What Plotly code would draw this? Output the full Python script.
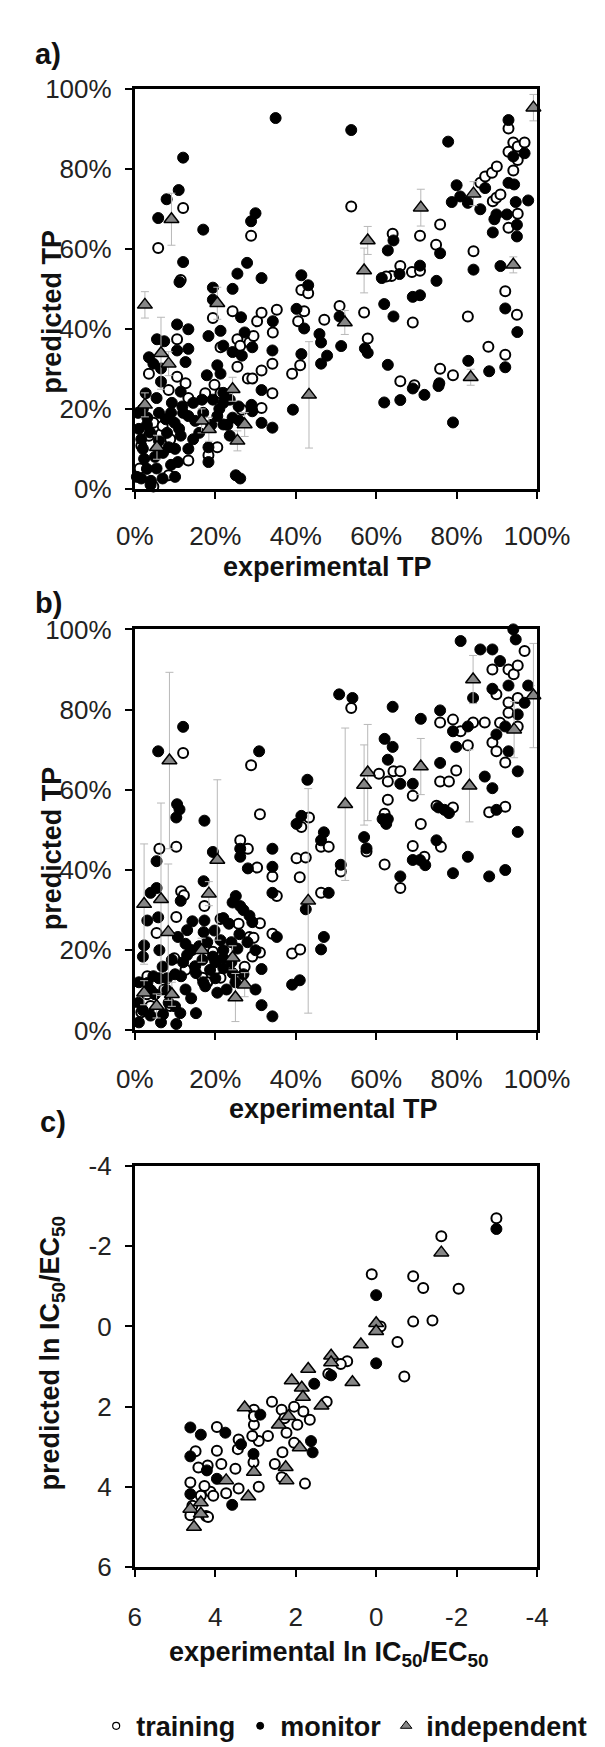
import plotly.graph_objects as go

# ---- panel a: transdermal permeation, model 1 (fractions 0..1) ----
a_train_x = [0.114, 0.414, 0.431, 0.194, 0.243, 0.304, 0.315, 0.353, 0.343, 0.421, 0.406, 0.471, 0.105, 0.255,
             0.262, 0.285, 0.295, 0.213, 0.342, 0.315, 0.281, 0.292, 0.255, 0.391, 0.411, 0.035, 0.105, 0.126,
             0.084, 0.342, 0.315, 0.266, 0.175, 0.198, 0.213, 0.133, 0.046, 0.065, 0.088, 0.016, 0.205, 0.133,
             0.183, 0.084, 0.046, 0.012, 0.035, 0.069,
             0.058, 0.120, 0.289, 0.538, 0.709, 0.759, 0.749, 0.641, 0.660, 0.638, 0.625, 0.689, 0.709, 0.842,
             0.859, 0.871, 0.888, 0.900, 0.890, 0.899, 0.909, 0.929, 0.929, 0.941, 0.952, 0.941, 0.952, 0.969,
             0.929, 0.952, 0.921, 0.509, 0.570, 0.828, 0.950,
             0.691, 0.579, 0.879, 0.921, 0.759, 0.791, 0.660, 0.695]
a_train_y = [0.522, 0.497, 0.489, 0.427, 0.444, 0.419, 0.440, 0.448, 0.391, 0.444, 0.419, 0.423, 0.374, 0.374,
             0.358, 0.366, 0.382, 0.354, 0.313, 0.296, 0.276, 0.276, 0.305, 0.288, 0.309, 0.288, 0.280, 0.264,
             0.247, 0.239, 0.202, 0.198, 0.239, 0.260, 0.239, 0.227, 0.165, 0.137, 0.124, 0.108, 0.104, 0.071,
             0.084, 0.034, 0.006, 0.051, 0.133, 0.157,
             0.602, 0.702, 0.633, 0.706, 0.633, 0.661, 0.610, 0.638, 0.557, 0.532, 0.531, 0.542, 0.545, 0.594,
             0.765, 0.781, 0.790, 0.806, 0.719, 0.728, 0.736, 0.843, 0.901, 0.866, 0.856, 0.796, 0.822, 0.866,
             0.653, 0.688, 0.494, 0.457, 0.441, 0.431, 0.435,
             0.416, 0.376, 0.355, 0.335, 0.300, 0.284, 0.269, 0.259]

a_mon_x = [0.255, 0.315, 0.414, 0.431, 0.194, 0.243, 0.194, 0.264, 0.402, 0.421, 0.343, 0.105, 0.133, 0.183,
           0.213, 0.055, 0.073, 0.105, 0.133, 0.220, 0.273, 0.292, 0.266, 0.243, 0.342, 0.414, 0.463, 0.478,
           0.035, 0.046, 0.065, 0.126, 0.205, 0.213, 0.179, 0.065, 0.114, 0.027, 0.054, 0.092, 0.118, 0.145,
           0.167, 0.194, 0.220, 0.236, 0.258, 0.292, 0.315, 0.315, 0.342, 0.393, 0.008, 0.031, 0.077, 0.099,
           0.133, 0.205, 0.220, 0.243, 0.114, 0.145, 0.183, 0.236, 0.016, 0.038, 0.084, 0.133, 0.183, 0.107,
           0.023, 0.054, 0.069, 0.016, 0.039, 0.251, 0.262, 0.463, 0.459, 0.111,
           0.010, 0.020, 0.030, 0.050, 0.060, 0.070, 0.090, 0.100, 0.110, 0.120, 0.005, 0.030, 0.060, 0.080,
           0.100, 0.040, 0.020, 0.090, 0.150, 0.170, 0.160, 0.190, 0.210, 0.230, 0.260, 0.290, 0.220,
           0.350, 0.538, 0.120, 0.779, 0.929, 0.109, 0.079, 0.058, 0.170, 0.300, 0.289, 0.279, 0.120,
           0.629, 0.643, 0.709, 0.759, 0.788, 0.800, 0.809, 0.828, 0.859, 0.871, 0.890, 0.894, 0.899, 0.909,
           0.925, 0.929, 0.941, 0.943, 0.947, 0.950, 0.950, 0.969, 0.978,
           0.614, 0.620, 0.658, 0.691, 0.709, 0.750, 0.842, 0.921, 0.643, 0.509,
           0.951, 0.513, 0.921, 0.881, 0.829, 0.629, 0.572, 0.579, 0.620, 0.660, 0.691, 0.720, 0.757, 0.791, 0.755]
a_mon_y = [0.538, 0.527, 0.534, 0.509, 0.503, 0.500, 0.473, 0.429, 0.450, 0.401, 0.419, 0.411, 0.399, 0.382,
           0.395, 0.374, 0.369, 0.346, 0.350, 0.358, 0.391, 0.354, 0.333, 0.342, 0.346, 0.337, 0.313, 0.333,
           0.329, 0.313, 0.301, 0.317, 0.309, 0.288, 0.284, 0.268, 0.243, 0.239, 0.227, 0.215, 0.206, 0.215,
           0.223, 0.223, 0.215, 0.223, 0.206, 0.194, 0.247, 0.165, 0.153, 0.198, 0.190, 0.178, 0.174, 0.165,
           0.182, 0.182, 0.161, 0.178, 0.133, 0.124, 0.104, 0.133, 0.124, 0.141, 0.104, 0.100, 0.067, 0.067,
           0.075, 0.051, 0.026, 0.026, 0.010, 0.034, 0.026, 0.366, 0.387, 0.517,
           0.150, 0.100, 0.050, 0.080, 0.120, 0.090, 0.060, 0.100, 0.150, 0.190, 0.030, 0.160, 0.190, 0.140,
           0.030, 0.020, 0.200, 0.190, 0.170, 0.190, 0.140, 0.160, 0.200, 0.160, 0.170, 0.210, 0.240,
           0.927, 0.897, 0.828, 0.868, 0.922, 0.747, 0.724, 0.677, 0.648, 0.689, 0.669, 0.565, 0.567,
           0.596, 0.621, 0.558, 0.589, 0.717, 0.759, 0.731, 0.715, 0.699, 0.752, 0.641, 0.674, 0.686, 0.557,
           0.686, 0.765, 0.831, 0.761, 0.717, 0.660, 0.631, 0.839, 0.721,
           0.527, 0.462, 0.537, 0.480, 0.484, 0.520, 0.548, 0.451, 0.431, 0.431,
           0.392, 0.357, 0.304, 0.294, 0.320, 0.310, 0.351, 0.340, 0.216, 0.222, 0.251, 0.235, 0.264, 0.166, 0.257]

a_ind_x = [0.025, 0.091, 0.205, 0.065, 0.084, 0.025, 0.243, 0.166, 0.184, 0.273, 0.255, 0.055, 0.433, 0.522,
           0.570, 0.579, 0.711, 0.842, 0.835, 0.941, 0.991]
a_ind_y = [0.460, 0.674, 0.464, 0.339, 0.313, 0.210, 0.249, 0.170, 0.149, 0.161, 0.120, 0.104, 0.235, 0.416,
           0.546, 0.621, 0.703, 0.738, 0.279, 0.560, 0.953]
a_ind_err = [0.033, 0.065, 0.040, 0.090, 0.030, 0.030, 0.030, 0.030, 0.030, 0.030, 0.025, 0.030, 0.133, 0.030,
             0.056, 0.035, 0.046, 0.030, 0.020, 0.020, 0.033]

# ---- panel b: transdermal permeation, model 2 ----
b_train_x = [0.311, 0.433, 0.414, 0.463, 0.482, 0.512, 0.402, 0.425, 0.410, 0.463, 0.353, 0.342, 0.304, 0.262,
             0.281, 0.061, 0.103, 0.115, 0.122, 0.173, 0.103, 0.213, 0.258, 0.311, 0.342, 0.285, 0.295, 0.311,
             0.292, 0.391, 0.411, 0.273, 0.194, 0.141, 0.054, 0.126, 0.031, 0.073, 0.168, 0.213, 0.016, 0.088,
             0.039, 0.098, 0.180, 0.030,
             0.120, 0.289, 0.538, 0.607, 0.629, 0.643, 0.660, 0.629, 0.691, 0.759, 0.791, 0.810, 0.841, 0.870,
             0.828, 0.799, 0.759, 0.781, 0.889, 0.899, 0.908, 0.889, 0.899, 0.921, 0.929, 0.942, 0.952, 0.929,
             0.952, 0.929, 0.952, 0.969, 0.921,
             0.621, 0.576, 0.621, 0.660, 0.691, 0.711, 0.720, 0.750, 0.761, 0.791, 0.881]
b_train_y = [0.539, 0.531, 0.507, 0.458, 0.458, 0.396, 0.429, 0.431, 0.382, 0.343, 0.335, 0.384, 0.406, 0.474,
             0.453, 0.453, 0.458, 0.347, 0.337, 0.310, 0.283, 0.278, 0.266, 0.267, 0.241, 0.233, 0.231, 0.194,
             0.184, 0.192, 0.202, 0.159, 0.196, 0.200, 0.243, 0.151, 0.135, 0.102, 0.131, 0.131, 0.045, 0.061,
             0.061, 0.180, 0.120, 0.090,
             0.692, 0.661, 0.804, 0.640, 0.621, 0.646, 0.646, 0.575, 0.585, 0.768, 0.775, 0.746, 0.768, 0.768,
             0.711, 0.648, 0.621, 0.621, 0.900, 0.838, 0.767, 0.718, 0.696, 0.668, 0.900, 0.888, 0.910, 0.818,
             0.829, 0.792, 0.758, 0.946, 0.558,
             0.540, 0.446, 0.414, 0.355, 0.460, 0.515, 0.433, 0.560, 0.458, 0.556, 0.544]

b_mon_x = [0.105, 0.111, 0.103, 0.173, 0.054, 0.194, 0.262, 0.262, 0.281, 0.342, 0.342, 0.342, 0.353, 0.402,
           0.414, 0.470, 0.463, 0.482, 0.512, 0.425, 0.470, 0.463, 0.391, 0.410, 0.342, 0.315, 0.315, 0.152,
           0.113, 0.103, 0.039, 0.054, 0.031, 0.058, 0.171, 0.114, 0.143, 0.173, 0.171, 0.251, 0.243, 0.262,
           0.285, 0.292, 0.234, 0.198, 0.213, 0.107, 0.126, 0.023, 0.061, 0.092, 0.130, 0.168, 0.194, 0.220,
           0.255, 0.020, 0.069, 0.046, 0.115, 0.152, 0.187, 0.220, 0.243, 0.175, 0.205, 0.228, 0.126, 0.031,
           0.009, 0.039, 0.065, 0.084, 0.300, 0.150, 0.200, 0.080, 0.050, 0.140, 0.240, 0.270,
           0.010, 0.020, 0.040, 0.060, 0.080, 0.100, 0.120, 0.140, 0.160, 0.180, 0.200, 0.220, 0.240, 0.260,
           0.280, 0.300, 0.100, 0.070, 0.130, 0.220, 0.270, 0.170, 0.250, 0.010,
           0.058, 0.120, 0.309, 0.429, 0.508, 0.541, 0.641, 0.621, 0.641, 0.629, 0.660, 0.691, 0.711, 0.759,
           0.759, 0.791, 0.799, 0.810, 0.828, 0.841, 0.859, 0.889, 0.908, 0.889, 0.929, 0.941, 0.947, 0.952,
           0.929, 0.899, 0.921, 0.952, 0.870, 0.889, 0.978, 0.969,
           0.570, 0.576, 0.616, 0.629, 0.625, 0.660, 0.691, 0.709, 0.722, 0.750, 0.755, 0.770, 0.781, 0.791,
           0.828, 0.881, 0.899, 0.921, 0.952]
b_mon_y = [0.564, 0.551, 0.531, 0.523, 0.422, 0.445, 0.453, 0.433, 0.404, 0.453, 0.408, 0.343, 0.233, 0.515,
           0.535, 0.494, 0.474, 0.343, 0.413, 0.302, 0.233, 0.202, 0.114, 0.125, 0.035, 0.153, 0.063, 0.043,
           0.043, 0.016, 0.343, 0.355, 0.274, 0.282, 0.372, 0.323, 0.272, 0.274, 0.245, 0.335, 0.319, 0.310,
           0.286, 0.270, 0.266, 0.249, 0.225, 0.233, 0.216, 0.212, 0.200, 0.176, 0.188, 0.176, 0.184, 0.200,
           0.204, 0.184, 0.159, 0.135, 0.135, 0.143, 0.151, 0.155, 0.143, 0.110, 0.094, 0.102, 0.102, 0.118,
           0.069, 0.037, 0.020, 0.069, 0.102, 0.160, 0.130, 0.130, 0.090, 0.080, 0.170, 0.140,
           0.120, 0.050, 0.100, 0.130, 0.100, 0.140, 0.170, 0.200, 0.210, 0.220, 0.170, 0.180, 0.220, 0.240,
           0.220, 0.200, 0.060, 0.040, 0.250, 0.280, 0.300, 0.120, 0.120, 0.020,
           0.696, 0.757, 0.696, 0.625, 0.838, 0.829, 0.807, 0.727, 0.707, 0.675, 0.615, 0.615, 0.777, 0.798,
           0.667, 0.746, 0.707, 0.971, 0.758, 0.829, 0.950, 0.950, 0.921, 0.852, 0.860, 1.000, 0.975, 0.788,
           0.696, 0.738, 0.758, 0.646, 0.633, 0.604, 0.860, 0.817,
           0.482, 0.454, 0.527, 0.527, 0.515, 0.384, 0.425, 0.425, 0.412, 0.474, 0.556, 0.550, 0.542, 0.392,
           0.433, 0.384, 0.550, 0.400, 0.495]

b_ind_x = [0.023, 0.065, 0.083, 0.086, 0.184, 0.205, 0.166, 0.243, 0.273, 0.250, 0.023, 0.092, 0.054, 0.431,
           0.523, 0.570, 0.579, 0.711, 0.832, 0.841, 0.943, 0.991]
b_ind_y = [0.315, 0.327, 0.245, 0.673, 0.341, 0.425, 0.200, 0.181, 0.114, 0.082, 0.094, 0.090, 0.061, 0.323,
           0.564, 0.612, 0.643, 0.658, 0.610, 0.875, 0.750, 0.835]
b_ind_err = [0.15, 0.24, 0.17, 0.22, 0.03, 0.20, 0.03, 0.03, 0.03, 0.06, 0.03, 0.03, 0.03, 0.28,
             0.19, 0.10, 0.12, 0.07, 0.09, 0.06, 0.07, 0.13]

# ---- panel c: ln IC50/EC50 ----
c_train_x = [0.11, -0.92, -1.17, -2.05, -0.92, -1.40, -0.53, -0.70, -0.11, -1.62, -2.99,
             0.72, 0.88, 1.19, 1.23, 2.59, 3.04, 2.35, 2.04, 1.81, 1.65, 1.96, 2.28, 2.69, 2.92, 3.08, 3.42,
             2.23, 2.04, 3.96, 3.96, 3.44, 3.05, 3.85, 3.50, 2.52, 2.33, 2.35, 1.77, 2.92, 3.42, 4.12, 3.73,
             4.23, 4.19, 3.04, 3.04,
             4.49, 4.42, 4.62, 4.57, 4.18, 4.36, 4.05, 4.62, 4.27]
c_train_y = [-1.30, -1.25, -0.96, -0.94, -0.12, -0.15, 0.39, 1.25, 0.00, -2.25, -2.70,
             0.87, 0.94, 1.18, 1.88, 1.88, 2.08, 2.08, 2.00, 2.12, 2.33, 2.45, 2.29, 2.73, 2.86, 2.73, 2.82,
             2.65, 2.90, 2.51, 3.10, 3.06, 3.39, 3.43, 3.55, 3.43, 3.14, 3.76, 3.92, 4.00, 4.04, 4.12, 4.16,
             4.73, 3.47, 2.45, 2.24,
             3.11, 3.52, 3.89, 4.47, 4.75, 4.22, 4.22, 4.71, 3.98]

c_mon_x = [0.00, 0.00, -2.99, 1.12, 1.54, 2.88, 3.75, 3.36, 3.05, 1.62, 1.58, 4.21, 3.96, 3.58, 4.62, 4.36,
           4.62, 4.62]
c_mon_y = [-0.78, 0.92, -2.43, 1.22, 1.43, 2.20, 2.65, 2.94, 3.18, 2.86, 3.14, 3.59, 3.80, 4.45, 2.52, 2.70,
           3.24, 4.18]

c_ind_x = [-1.62, 0.00, 0.00, 0.38, 1.12, 1.12, 0.59, 1.69, 2.10, 1.85, 1.82, 1.36, 3.27, 2.18, 2.42, 1.90,
           2.25, 2.23, 3.04, 3.73, 3.18, 4.62, 4.36, 4.36, 4.53]
c_ind_y = [-1.84, -0.08, 0.12, 0.45, 0.73, 0.90, 1.39, 1.06, 1.35, 1.53, 1.76, 1.98, 2.02, 2.24, 2.45, 3.02,
           3.51, 3.84, 3.63, 3.84, 4.24, 4.55, 4.39, 4.67, 5.00]

# ---- ticks ----
pct_ticks = [0, 0.2, 0.4, 0.6, 0.8, 1.0]
pct_labels = ["0%", "20%", "40%", "60%", "80%", "100%"]
ln_ticks = [6, 4, 2, 0, -2, -4]
ln_labels = ["6", "4", "2", "0", "-2", "-4"]

W, H = 605, 1747
FONT = "Liberation Sans, Arial, Helvetica, sans-serif"
GREY = "#868686"


def px(x):
    return x / W


def py(y):
    return 1 - y / H


train_marker = dict(symbol="circle", size=10, color="white", line=dict(color="black", width=2))
mon_marker = dict(symbol="circle", size=11, color="black", line=dict(color="black", width=1))
ind_marker = dict(symbol="triangle-up", size=13, color=GREY, line=dict(color="black", width=1.5))
err_style = dict(type="data", color="#b8b8b8", thickness=1, width=4)

fig = go.Figure()

panels = [
    ("x", "y", a_train_x, a_train_y, a_mon_x, a_mon_y, a_ind_x, a_ind_y, a_ind_err),
    ("x2", "y2", b_train_x, b_train_y, b_mon_x, b_mon_y, b_ind_x, b_ind_y, b_ind_err),
    ("x3", "y3", c_train_x, c_train_y, c_mon_x, c_mon_y, c_ind_x, c_ind_y, None),
]
for xa, ya, tx, ty, mx, my, ix, iy, ie in panels:
    fig.add_trace(go.Scatter(x=tx, y=ty, mode="markers", marker=train_marker, xaxis=xa, yaxis=ya,
                             showlegend=False, cliponaxis=False))
    fig.add_trace(go.Scatter(x=mx, y=my, mode="markers", marker=mon_marker, xaxis=xa, yaxis=ya,
                             showlegend=False, cliponaxis=False))
    fig.add_trace(go.Scatter(x=ix, y=iy, mode="markers", marker=ind_marker, xaxis=xa, yaxis=ya,
                             error_y=dict(array=ie, **err_style) if ie else None,
                             showlegend=False, cliponaxis=False))

# legend-only entries with small symbols
for name, mk in [("training", dict(train_marker, size=7, line=dict(color="black", width=1.2))),
                 ("monitor", dict(mon_marker, size=7)),
                 ("independent", dict(ind_marker, size=10, line=dict(color="black", width=1)))]:
    fig.add_trace(go.Scatter(x=[None], y=[None], mode="markers", marker=mk, name=name,
                             xaxis="x3", yaxis="y3"))

xdom = [px(118), px(558)]
ydoms = {"a": [py(474), py(67)], "b": [py(1025), py(617)], "c": [py(1571), py(1163)]}

axis_common = dict(showline=True, mirror=True, linewidth=3, linecolor="black", showgrid=False,
                   zeroline=False, ticks="outside", ticklen=7, tickwidth=2, tickcolor="black",
                   tickfont=dict(family=FONT, size=26, color="#222"), tickmode="array", fixedrange=True)

fig.update_layout(
    width=W, height=H,
    margin=dict(l=0, r=0, t=0, b=0),
    paper_bgcolor="white", plot_bgcolor="white",
    font=dict(family=FONT, color="#111"),
    xaxis=dict(axis_common, domain=xdom, anchor="y", range=[0, 1], tickvals=pct_ticks, ticktext=pct_labels,
               ticklabelstandoff=15),
    yaxis=dict(axis_common, domain=ydoms["a"], anchor="x", range=[0, 1], tickvals=pct_ticks, ticktext=pct_labels,
               ticklabelstandoff=8),
    xaxis2=dict(axis_common, domain=xdom, anchor="y2", range=[0, 1], tickvals=pct_ticks, ticktext=pct_labels,
                ticklabelstandoff=16),
    yaxis2=dict(axis_common, domain=ydoms["b"], anchor="x2", range=[0, 1], tickvals=pct_ticks,
                ticktext=pct_labels, ticklabelstandoff=8),
    xaxis3=dict(axis_common, domain=xdom, anchor="y3", range=[6, -4], tickvals=ln_ticks, ticktext=ln_labels,
                ticklabelstandoff=18),
    yaxis3=dict(axis_common, domain=ydoms["c"], anchor="x3", range=[6, -4], tickvals=ln_ticks,
                ticktext=ln_labels, ticklabelstandoff=8),
    legend=dict(orientation="h", x=px(347), xanchor="center", y=py(1733), yanchor="middle",
                font=dict(family=FONT, size=27, color="#111", weight="bold"),
                itemwidth=30, bgcolor="rgba(0,0,0,0)", traceorder="normal"),
)

title_font = dict(family=FONT, size=27, color="#111", weight="bold")
label_font = dict(family=FONT, size=29, color="#111", weight="bold")
notes = [
    ("a)", 23, 32, 0, label_font),
    ("b)", 24, 590, 0, label_font),
    ("c)", 28, 1118, 0, label_font),
    ("predicted TP", 27, 294, -90, title_font),
    ("predicted TP", 27, 840, -90, title_font),
    ("predicted ln IC<sub>50</sub>/EC<sub>50</sub>", 27, 1353, -90, title_font),
    ("experimental TP", 329, 553, 0, title_font),
    ("experimental TP", 335, 1105, 0, title_font),
    ("experimental ln IC<sub>50</sub>/EC<sub>50</sub>", 330, 1660, 0, title_font),
]
for text, x, y, ang, f in notes:
    fig.add_annotation(text=text, x=px(x), y=py(y), xref="paper", yref="paper", showarrow=False,
                       xanchor="center", yanchor="middle", textangle=ang, font=f)

fig.write_html("out.html")
